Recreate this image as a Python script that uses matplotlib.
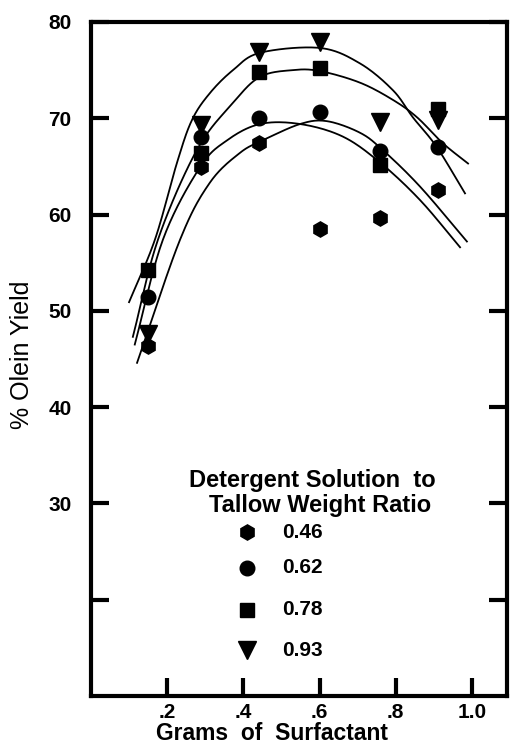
import numpy as np
import matplotlib
matplotlib.use("Agg")
import matplotlib.pyplot as plt

plt.rcParams['font.family'] = ['Liberation Sans', 'DejaVu Sans']

# measured points, grams of surfactant vs % olein yield
grams = [0.15, 0.29, 0.44, 0.60, 0.76, 0.91]
yield_046 = [46.3, 64.9, 67.4, 58.5, 59.6, 62.6]
yield_062 = [51.4, 68.1, 70.0, 70.7, 66.6, 67.0]
yield_078 = [54.2, 66.4, 74.8, 75.2, 65.1, 71.0]
yield_093 = [47.6, 69.3, 76.9, 77.9, 69.6, 69.8]

# points
curve_046_x = [0.121, 0.234, 0.312, 0.391, 0.451, 0.549, 0.619, 0.706, 0.766, 0.864, 0.987]
curve_046_y = [44.6, 57.4, 63.3, 66.4, 67.7, 69.4, 69.7, 68.5, 66.7, 62.9, 57.2]
curve_062_x = [0.115, 0.189, 0.286, 0.357, 0.444, 0.549, 0.661, 0.759, 0.864, 0.969]
curve_062_y = [46.5, 57.4, 64.9, 67.7, 69.4, 69.4, 68.1, 65.4, 61.5, 56.6]
curve_078_x = [0.110, 0.176, 0.278, 0.373, 0.444, 0.530, 0.601, 0.706, 0.793, 0.856, 0.924, 0.990]
curve_078_y = [47.3, 57.4, 66.7, 71.6, 74.3, 75.0, 74.9, 73.7, 71.9, 70.1, 67.4, 65.3]
curve_093_x = [0.100, 0.168, 0.226, 0.265, 0.312, 0.373, 0.444, 0.601, 0.706, 0.793, 0.845, 0.908, 0.982]
curve_093_y = [50.9, 57.4, 65.4, 69.8, 72.6, 75.0, 76.8, 77.3, 75.7, 72.9, 70.1, 67.0, 62.2]

ratios = ['0.46', '0.62', '0.78', '0.93']
x_ticks = [0.2, 0.4, 0.6, 0.8, 1.0]
x_ticklabels = ['.2', '.4', '.6', '.8', '1.0']
y_ticks = [20, 30, 40, 50, 60, 70, 80]
y_ticklabels = ['', '30', '40', '50', '60', '70', '80']

series = [yield_046, yield_062, yield_078, yield_093]
curves = [(curve_046_x, curve_046_y), (curve_062_x, curve_062_y),
          (curve_078_x, curve_078_y), (curve_093_x, curve_093_y)]
markers = ['h', 'o', 's', 'v']
msizes = [11, 10.5, 10, 13]


def smooth(px, py, n=20):
    # catmull-rom through the read points, so the curve looks hand drawn
    p = np.column_stack([px, py])
    ext = np.vstack([2 * p[0] - p[1], p, 2 * p[-1] - p[-2]])
    out = []
    t = np.linspace(0, 1, n, endpoint=False)[:, None]
    for i in range(1, len(ext) - 2):
        p0, p1, p2, p3 = ext[i - 1], ext[i], ext[i + 1], ext[i + 2]
        seg = 0.5 * ((2 * p1) + (-p0 + p2) * t + (2 * p0 - 5 * p1 + 4 * p2 - p3) * t ** 2
                     + (-p0 + 3 * p1 - 3 * p2 + p3) * t ** 3)
        out.append(seg)
    out.append(p[-1][None, :])
    out = np.vstack(out)
    return out[:, 0], out[:, 1]


fig = plt.figure(figsize=(5.11, 7.44), dpi=100)
ax = fig.add_axes([0.178, 0.0645, 0.814, 0.906])

for cx, cy in curves:
    sx, sy = smooth(cx, cy)
    ax.plot(sx, sy, color='black', lw=1.3)

for ys, m, ms in zip(series, markers, msizes):
    ax.plot(grams, ys, linestyle='none', marker=m, markersize=ms, color='black')

ax.set_xlim(0, 1.092)
ax.set_ylim(10, 80)
ax.set_xticks(x_ticks)
ax.set_xticklabels(x_ticklabels)
ax.set_yticks(y_ticks)
ax.set_yticklabels(y_ticklabels)
for s in ax.spines.values():
    s.set_linewidth(3)
ax.tick_params(direction='in', length=13, width=3, right=True, top=False,
               labelsize=15)
ax.tick_params(axis='y', pad=14)
ax.tick_params(axis='x', pad=5)
for lab in ax.get_xticklabels() + ax.get_yticklabels():
    lab.set_fontweight('bold')

# x label sits tight under the tick labels, as in the print
ax.text(0.435, -0.065, 'Grams  of  Surfactant', transform=ax.transAxes,
        ha='center', va='baseline', fontsize=16.5, fontweight='bold')
fig.text(0.043, 0.523, '% Olein Yield', rotation=90, fontsize=18,
         ha='center', va='center')

# legend drawn by hand like the original
ax.text(0.531, 0.320, 'Detergent Solution  to', transform=ax.transAxes,
        ha='center', va='center', fontsize=17, fontweight='bold')
ax.text(0.550, 0.283, 'Tallow Weight Ratio', transform=ax.transAxes,
        ha='center', va='center', fontsize=17, fontweight='bold')
rows = [0.243, 0.190, 0.128, 0.068]
for r, m, ms, lab in zip(rows, markers, msizes, ratios):
    ax.plot([0.375], [r], marker=m, markersize=ms, color='black',
            linestyle='none', transform=ax.transAxes, clip_on=False)
    ax.text(0.459, r, lab, transform=ax.transAxes, ha='left', va='center',
            fontsize=15, fontweight='bold')

fig.savefig('out.png', dpi=100)
